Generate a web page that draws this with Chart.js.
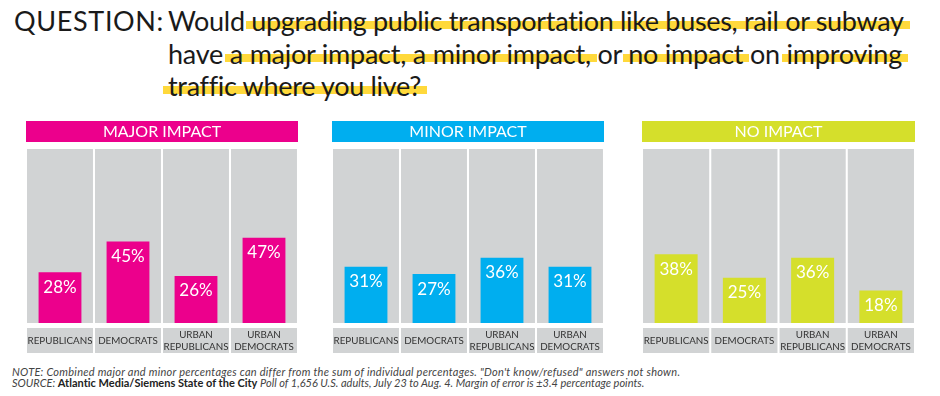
<!DOCTYPE html>
<html>
<head>
<meta charset="utf-8">
<script src="https://cdn.jsdelivr.net/npm/chart.js@4.4.1/dist/chart.umd.min.js"></script>
<style>
  body { margin:0; width:940px; height:396px; background:#fff; position:relative; overflow:hidden; font-family:Lato, sans-serif; color:#1a1a1a; }
  #q { position:absolute; left:14px; top:5px; font-size:27px; line-height:32.5px; white-space:nowrap; }
  .ln { position:absolute; left:168px; font-size:27px; line-height:32.5px; white-space:nowrap; }
  .hl { background:linear-gradient(to bottom, transparent 52%, #ffd93b 52%, #ffd93b 76%, transparent 76%);
        padding:0 6px 0 5px; margin:0 -6px 0 -5px; }
  #note { position:absolute; left:12px; top:366px; font-size:11px; line-height:11px; color:#444; font-style:italic; font-weight:400; white-space:nowrap; }
  #note b { font-style:normal; font-weight:700; color:#222; }
  canvas { position:absolute; top:116px; }
</style>
</head>
<body>
<div id="q">QUESTION:</div>
<div class="ln" id="l1" style="top:5px">Would <span class="hl">upgrading public transportation like buses, rail or subway</span></div>
<div class="ln" id="l2" style="top:37.5px">have <span class="hl">a major impact, a minor impact,</span> or <span class="hl">no impact</span> on <span class="hl">improving</span></div>
<div class="ln" id="l3" style="top:70px"><span class="hl">traffic where you live?</span></div>

<canvas id="c1" width="272" height="240" style="left:26px"></canvas>
<canvas id="c2" width="272" height="240" style="left:332px"></canvas>
<canvas id="c3" width="273" height="240" style="left:642px"></canvas>

<div id="note">
  <div id="n1">NOTE: Combined major and minor percentages can differ from the sum of individual percentages. "Don't know/refused" answers not shown.</div>
  <div id="n2">SOURCE: <b>Atlantic Media/Siemens State of the City</b> Poll of 1,656 U.S. adults, July 23 to Aug. 4. Margin of error is ±3.4 percentage points.</div>
</div>

<script>
// data
const groups = [['REPUBLICANS'], ['DEMOCRATS'], ['URBAN', 'REPUBLICANS'], ['URBAN', 'DEMOCRATS']]
const majorImpact = [28, 45, 26, 47]
const minorImpact = [31, 27, 36, 31]
const noImpact = [38, 25, 36, 18]
const panelTitles = ['MAJOR IMPACT', 'MINOR IMPACT', 'NO IMPACT']
const yMax = 96

const grey = '#d1d3d4'
const colors = ['#ec008c', '#00aeef', '#d5df2b']

// header, label boxes and value labels
const deco = {
  id: 'deco',
  beforeDraw(chart, args, opts) {
    const ctx = chart.ctx
    const a = chart.chartArea
    ctx.save()
    ctx.fillStyle = opts.color
    ctx.fillRect(a.left, a.top - 28, a.right - a.left, 21)
    ctx.fillStyle = '#fff'
    ctx.font = '16px Lato'
    ctx.textAlign = 'center'
    ctx.textBaseline = 'middle'
    ctx.fillText(opts.title, (a.left + a.right) / 2, a.top - 17)

    const bars = chart.getDatasetMeta(1).data
    ctx.font = '9.8px Lato'
    bars.forEach((b, i) => {
      ctx.fillStyle = grey
      ctx.fillRect(b.x - b.width / 2, a.bottom + 5, b.width, 25)
      ctx.fillStyle = '#333'
      const lines = chart.data.labels[i]
      const cy = a.bottom + 18
      if (lines.length == 1) {
        ctx.fillText(lines[0], b.x, cy)
      } else {
        ctx.fillText(lines[0], b.x, cy - 6.3)
        ctx.fillText(lines[1], b.x, cy + 6.3)
      }
    })
    ctx.restore()
  },
  afterDatasetsDraw(chart) {
    const ctx = chart.ctx
    const meta = chart.getDatasetMeta(0)
    ctx.save()
    ctx.fillStyle = '#fff'
    ctx.font = '17px Lato'
    ctx.textAlign = 'center'
    ctx.textBaseline = 'middle'
    meta.data.forEach((b, i) => {
      ctx.fillText(chart.data.datasets[0].data[i] + '%', b.x, b.y + 15)
    })
    ctx.restore()
  }
}

function panel(id, title, color, values) {
  new Chart(document.getElementById(id), {
    type: 'bar',
    data: {
      labels: groups,
      datasets: [
        { data: values, backgroundColor: color, barPercentage: 0.63, categoryPercentage: 1, grouped: false, order: 0 },
        { data: groups.map(() => yMax), backgroundColor: grey, barPercentage: 0.97, categoryPercentage: 1, grouped: false, order: 1 }
      ]
    },
    options: {
      responsive: false,
      animation: false,
      layout: { padding: { top: 33, bottom: 33, left: 0, right: 0 } },
      plugins: {
        legend: { display: false },
        tooltip: { enabled: false },
        deco: { title: title, color: color }
      },
      scales: {
        x: { display: false },
        y: { display: false, min: 0, max: yMax }
      }
    },
    plugins: [deco]
  })
}

panel('c1', panelTitles[0], colors[0], majorImpact)
panel('c2', panelTitles[1], colors[1], minorImpact)
panel('c3', panelTitles[2], colors[2], noImpact)

// squeeze the text lines to the reference widths
function fit(id, width) {
  const el = document.getElementById(id)
  const w = el.getBoundingClientRect().width
  const n = el.textContent.trim().length
  el.style.letterSpacing = ((width - w) / n) + 'px'
  return (width - w) / n
}
fit('q', 150)
const ls = fit('l1', 736)
fit('l2', 734)
document.getElementById('l3').style.letterSpacing = ls + 'px'
fit('n1', 668)
fit('n2', 669)
</script>
</body>
</html>
